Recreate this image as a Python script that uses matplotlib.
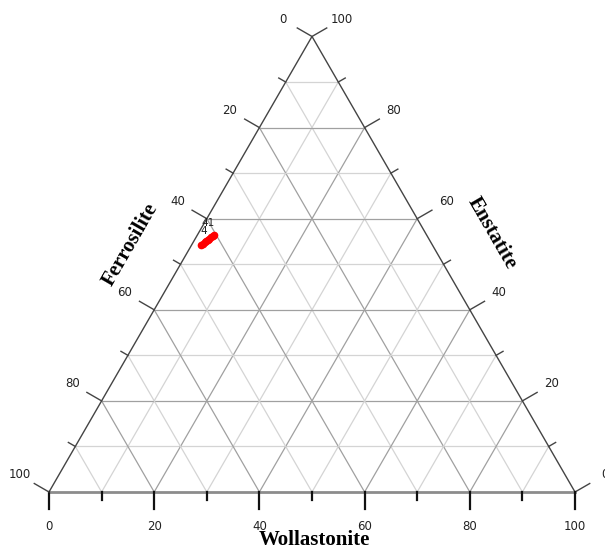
import numpy as np
import matplotlib
matplotlib.use("Agg")
import matplotlib.pyplot as plt

# pyroxene compositions (mol %)
enstatite = [54.2, 54.5, 54.8, 55.0, 55.3, 55.6, 55.9, 56.2, 56.4]
wollastonite = [1.8, 2.0, 2.2, 2.4, 2.5, 2.7, 2.9, 3.0, 3.1]
ferrosilite = [44.0, 43.5, 43.0, 42.6, 42.2, 41.7, 41.2, 40.8, 40.5]

# sample labels placed by composition
label_text = ["41", "4"]
label_en = [59.0, 57.2]
label_wo = [0.7, 0.85]

major = [0, 20, 40, 60, 80, 100]
minor = [10, 30, 50, 70, 90]
S3 = np.sqrt(3) / 2


def to_xy(wo, en):
    wo = np.asarray(wo) / 100.0
    en = np.asarray(en) / 100.0
    return wo + en / 2, en * S3


fig = plt.figure(figsize=(6.05, 5.49), dpi=100)
ax = fig.add_axes([0, 0, 1, 1])
ax.set_xlim(-49 / 526, 556 / 526)
ax.set_ylim(-57 / 526, 492 / 526)
ax.axis("off")

# grid lines, three families
for v in range(10, 100, 10):
    col = "#a0a0a0" if v % 20 == 0 else "#d4d4d4"
    f = v / 100
    # constant enstatite
    x, y = to_xy([0, 100 - v], [v, v])
    ax.plot(x, y, color=col, lw=0.9, zorder=1)
    # constant ferrosilite
    x, y = to_xy([0, 100 - v], [100 - v, 0])
    ax.plot(x, y, color=col, lw=0.9, zorder=1)
    # constant wollastonite
    x, y = to_xy([v, v], [0, 100 - v])
    ax.plot(x, y, color=col, lw=0.9, zorder=1)

# triangle edges
ax.plot([0, 0.5, 1], [0, S3, 0], color="#444444", lw=1.0, zorder=2)
ax.plot([0, 1], [0, 0], color="#8c8c8c", lw=2.0, zorder=2)

# ticks and tick labels
lab_off = 34 / 526
for v in major + minor:
    ln = 17 / 526 if v in major else 8 / 526
    f = v / 100
    # left axis: ferrosilite, 0 at top
    px, py = (1 - f) / 2, (1 - f) * S3
    nx, ny = -S3, 0.5
    ax.plot([px, px + nx * ln], [py, py + ny * ln], color="#444444", lw=1.0, zorder=2)
    if v in major:
        ax.text(px + nx * lab_off, py + ny * lab_off, str(v), fontsize=8.5,
                ha="center", va="center", color="#222222")
    # right axis: enstatite, 0 at bottom right
    px, py = 1 - f / 2, f * S3
    nx, ny = S3, 0.5
    ax.plot([px, px + nx * ln], [py, py + ny * ln], color="#444444", lw=1.0, zorder=2)
    if v in major:
        ax.text(px + nx * lab_off, py + ny * lab_off, str(v), fontsize=8.5,
                ha="center", va="center", color="#222222")
    # bottom axis: wollastonite
    ax.plot([f, f], [0, -ln], color="#111111", lw=1.6, zorder=2)
    if v in major:
        ax.text(f, -lab_off, str(v), fontsize=8.5, ha="center", va="center",
                color="#222222")

# axis titles
title_font = dict(family="Liberation Serif", fontweight="bold", fontsize=15)
ax.text(0.154, 0.4696, "Ferrosilite", rotation=60, ha="center", va="center", **title_font)
ax.text(0.842, 0.4924, "Enstatite", rotation=-60, ha="center", va="center", **title_font)
ax.text(0.5038, -0.0913, "Wollastonite", ha="center", va="center", **title_font)

# samples
x, y = to_xy(wollastonite, enstatite)
ax.plot(x, y, "o", color="red", ms=4.5, mec="red", zorder=4)
lx, ly = to_xy(label_wo, label_en)
for t, a, b in zip(label_text, lx, ly):
    ax.text(a, b, t, fontsize=7.5, ha="center", va="center", color="#222222", zorder=5)

fig.savefig("out.png", dpi=100)
